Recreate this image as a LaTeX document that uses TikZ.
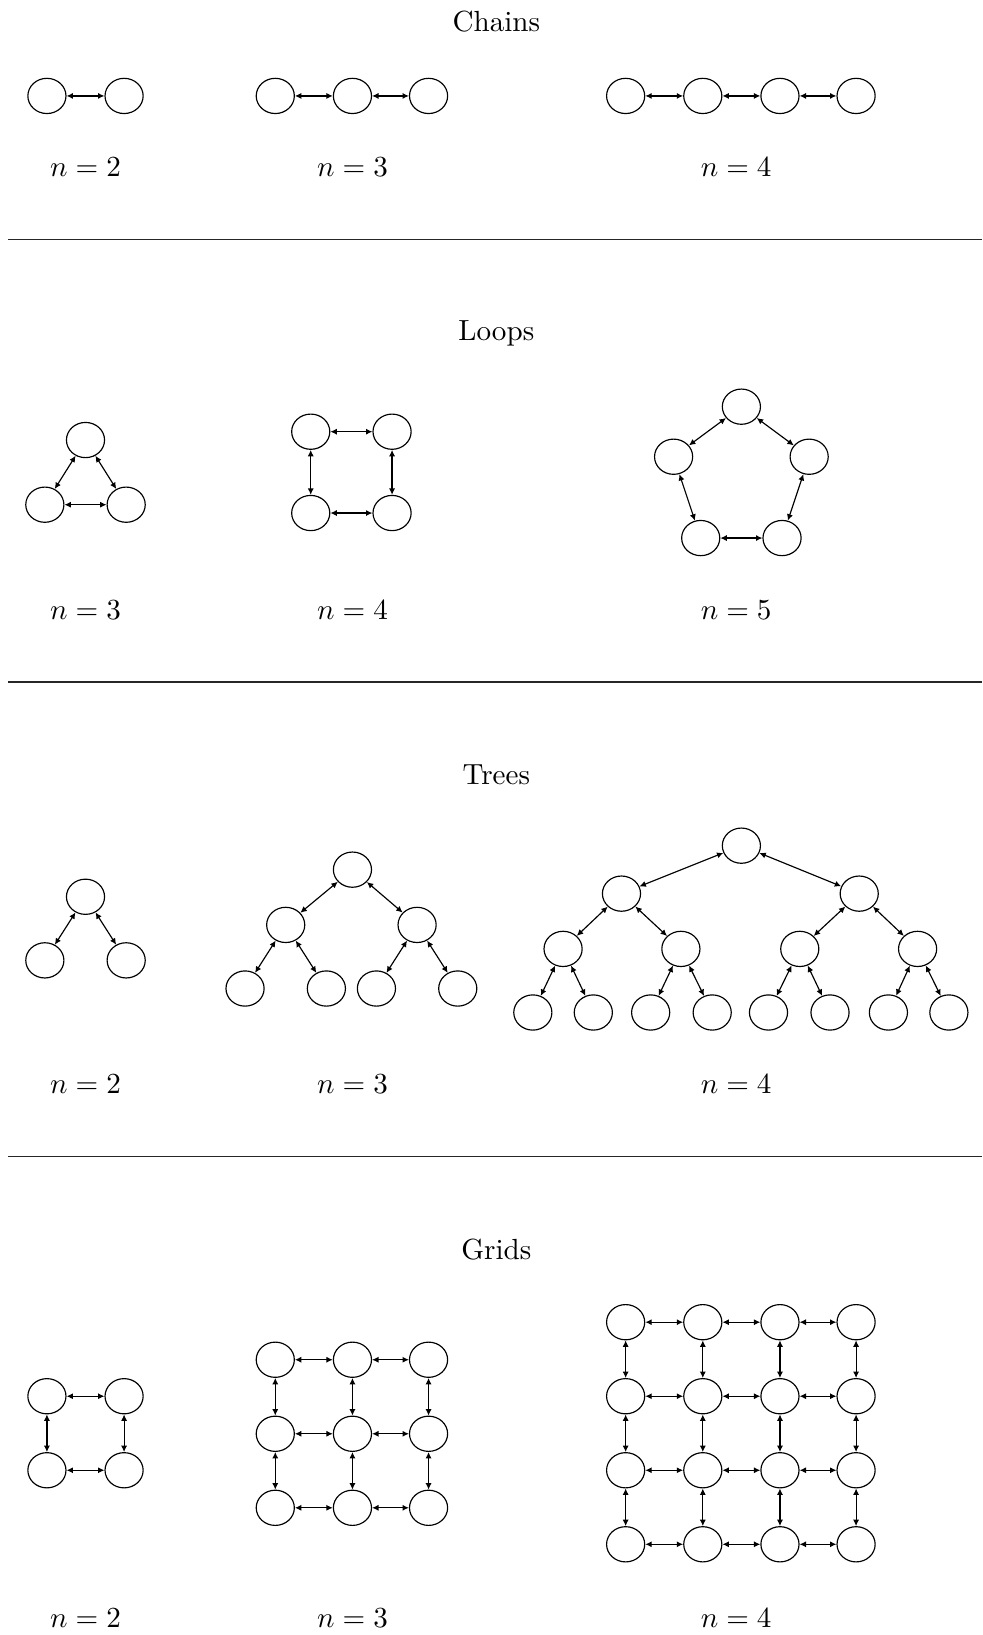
\documentclass[tikz,border=0pt]{standalone}
\usepackage{amsmath}
\usepackage{tikz}
\usetikzlibrary{arrows.meta,shapes.geometric}

\begin{document}
\begin{tikzpicture}[x=0.3582pt, y=-0.3582pt,
    vert/.style={draw, ellipse, minimum width=13.1pt, minimum height=12.1pt, inner sep=0pt},
    link/.style={{Latex[length=2.2pt,width=2.1pt]}-{Latex[length=2.2pt,width=2.1pt]}},
    rule/.style={draw=black!85}]
\useasboundingbox (0,0) rectangle (942,1568);

% chains
\node (chains) at (476,21) {Chains};
\foreach \x [count=\i] in {45,119} \node[vert] (c2-\i) at (\x,92) {};
\foreach \x [count=\i] in {264,338,411} \node[vert] (c3-\i) at (\x,92) {};
\foreach \x [count=\i] in {600,674,748,821} \node[vert] (c4-\i) at (\x,92) {};
\draw[link] (c2-1) -- (c2-2);
\foreach \i [evaluate=\i as \k using int(\i+1)] in {1,2} \draw[link] (c3-\i) -- (c3-\k);
\foreach \i [evaluate=\i as \k using int(\i+1)] in {1,2,3} \draw[link] (c4-\i) -- (c4-\k);
\node (nc2) at (82,160) {$n=2$};
\node (nc3) at (338,160) {$n=3$};
\node (nc4) at (706,160) {$n=4$};
\draw[rule] (8,230) -- (942,230);

% loops
\node (loops) at (476,320) {Loops};
\node[vert] (l3-1) at (82,422) {};
\node[vert] (l3-2) at (121,484) {};
\node[vert] (l3-3) at (43,484) {};
\node[vert] (l4-1) at (298,414) {};
\node[vert] (l4-2) at (376,414) {};
\node[vert] (l4-3) at (376,492) {};
\node[vert] (l4-4) at (298,492) {};
\node[vert] (l5-1) at (711,390) {};
\node[vert] (l5-2) at (776,438) {};
\node[vert] (l5-3) at (750,516) {};
\node[vert] (l5-4) at (672,516) {};
\node[vert] (l5-5) at (646,438) {};
\draw[link] (l3-1) -- (l3-2);
\draw[link] (l3-2) -- (l3-3);
\draw[link] (l3-3) -- (l3-1);
\foreach \i/\k in {1/2,2/3,3/4,4/1} \draw[link] (l4-\i) -- (l4-\k);
\foreach \i/\k in {1/2,2/3,3/4,4/5,5/1} \draw[link] (l5-\i) -- (l5-\k);
\node (nl3) at (82,585) {$n=3$};
\node (nl4) at (338,585) {$n=4$};
\node (nl5) at (706,585) {$n=5$};
\draw[rule] (8,654) -- (942,654);

% trees
\node (trees) at (476,743) {Trees};
\node[vert] (t2-a1) at (82,860) {};
\foreach \x [count=\i] in {43,121} {
  \node[vert] (t2-b\i) at (\x,921) {};
  \draw[link] (t2-a1) -- (t2-b\i);
}
\node[vert] (t3-a1) at (338,834) {};
\foreach \x [count=\i] in {274,400} {
  \node[vert] (t3-b\i) at (\x,887) {};
  \draw[link] (t3-a1) -- (t3-b\i);
}
\foreach \x [count=\i, evaluate=\i as \p using int((\i+1)/2)] in {235,313,361,439} {
  \node[vert] (t3-c\i) at (\x,948) {};
  \draw[link] (t3-b\p) -- (t3-c\i);
}
\node[vert] (t4-a1) at (711,811) {};
\foreach \x [count=\i] in {596,824} {
  \node[vert] (t4-b\i) at (\x,857) {};
  \draw[link] (t4-a1) -- (t4-b\i);
}
\foreach \x [count=\i, evaluate=\i as \p using int((\i+1)/2)] in {540,653,767,880} {
  \node[vert] (t4-c\i) at (\x,910) {};
  \draw[link] (t4-b\p) -- (t4-c\i);
}
\foreach \x [count=\i, evaluate=\i as \p using int((\i+1)/2)] in {511,569,624,683,737,796,852,910} {
  \node[vert] (t4-d\i) at (\x,971) {};
  \draw[link] (t4-c\p) -- (t4-d\i);
}
\node (nt2) at (82,1040) {$n=2$};
\node (nt3) at (338,1040) {$n=3$};
\node (nt4) at (706,1040) {$n=4$};
\draw[rule] (8,1109) -- (942,1109);

% grids
\node (grids) at (476,1198) {Grids};
\foreach \x [count=\i] in {45,119}
  \foreach \y [count=\j] in {1339,1410}
    \node[vert] (g2-\i-\j) at (\x,\y) {};
\foreach \x [count=\i] in {264,338,411}
  \foreach \y [count=\j] in {1304,1375,1446}
    \node[vert] (g3-\i-\j) at (\x,\y) {};
\foreach \x [count=\i] in {600,674,748,821}
  \foreach \y [count=\j] in {1268,1339,1410,1481}
    \node[vert] (g4-\i-\j) at (\x,\y) {};
\foreach \j in {1,2} {
  \draw[link] (g2-1-\j) -- (g2-2-\j);
  \draw[link] (g2-\j-1) -- (g2-\j-2);
}
\foreach \i [evaluate=\i as \k using int(\i+1)] in {1,2}
  \foreach \j in {1,2,3} {
    \draw[link] (g3-\i-\j) -- (g3-\k-\j);
    \draw[link] (g3-\j-\i) -- (g3-\j-\k);
  }
\foreach \i [evaluate=\i as \k using int(\i+1)] in {1,2,3}
  \foreach \j in {1,2,3,4} {
    \draw[link] (g4-\i-\j) -- (g4-\k-\j);
    \draw[link] (g4-\j-\i) -- (g4-\j-\k);
  }
\node (ng2) at (82,1552) {$n=2$};
\node (ng3) at (338,1552) {$n=3$};
\node (ng4) at (706,1552) {$n=4$};
\end{tikzpicture}
\end{document}
